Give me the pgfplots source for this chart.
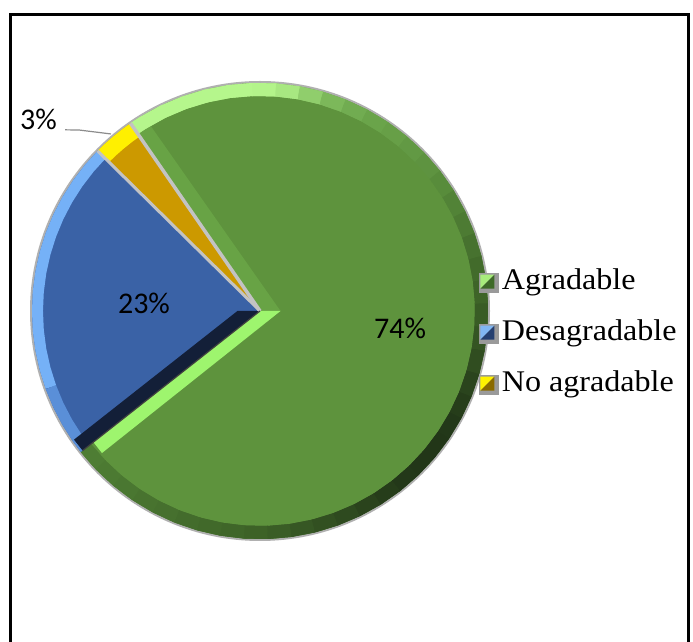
\documentclass[border=0pt]{standalone}
\usepackage{fontspec}
\setmainfont{Liberation Serif}
\newfontfamily\carlito{Carlito}
\usepackage{pgfplots}
\pgfplotsset{compat=1.18}
\usepgfplotslibrary{polar}
\definecolor{gmain}{HTML}{5E933D}
\definecolor{gband}{HTML}{68A345}
\definecolor{glight}{HTML}{9EF56E}
\definecolor{navy}{HTML}{131F38}
\definecolor{bmain}{HTML}{3A62A6}
\definecolor{blight}{HTML}{75B1F7}
\definecolor{bmid}{HTML}{5A8FD8}
\definecolor{ymain}{HTML}{CC9900}
\definecolor{ybright}{HTML}{FFF000}
\definecolor{sepgray}{HTML}{C3C3C3}
\definecolor{shadowgray}{HTML}{B0B0B0}
\definecolor{leadergray}{HTML}{8C8C8C}
\definecolor{lgray}{HTML}{9A9A9A}
\definecolor{gll}{HTML}{A8EC7C}
\definecolor{gld}{HTML}{3E6A28}
\definecolor{bll}{HTML}{80B6F2}
\definecolor{bld}{HTML}{243F70}
\definecolor{yll}{HTML}{FFF200}
\definecolor{yld}{HTML}{8A6A00}
\newcommand{\legtext}[1]{\scalebox{1.07}[1]{#1}}
\pgfplotstableread{
ang   r     shade
-141.8 0.972 1.8
-136  0.972 1.7
-130  0.972 1.6
-124  0.972 1.5
-118  0.972 1.4
-112  0.972 1.3
-106  0.972 1.2
-100  0.972 1.1
-94   0.972 1.0
-88   0.972 0.9
-82   0.972 0.8
-76   0.972 0.65
-70   0.972 0.5
-64   0.972 0.35
-58   0.972 0.2
-52   0.972 0.1
-46   0.972 0
-40   0.972 0
-34   0.972 0
-28   0.972 0.1
-22   0.972 0.2
-16   0.972 0.4
-10   0.972 0.6
-4    0.972 0.75
2     0.972 0.9
8     0.972 1.1
14    0.972 1.3
20    0.972 1.55
26    0.972 1.8
32    0.972 2.05
38    0.972 2.3
44    0.972 2.5
50    0.972 2.7
56    0.972 2.85
62    0.972 3.0
68    0.972 3.15
74    0.972 3.3
80    0.972 3.7
86    0.972 3.95
92    0.972 4
98    0.972 4
104   0.972 4
110   0.972 4
116   0.972 4
122   0.972 4
124.6 0.972 4
}\rimtable
\begin{document}
\begin{tikzpicture}[x=1pt,y=1pt]
\useasboundingbox (0,0) rectangle (693,642);
\fill[white] (0,0) rectangle (693,642);
\draw[line width=3pt] (10.5,-20) -- (10.5,627.5) -- (688.5,627.5) -- (688.5,-20);
\fill[shadowgray] (260,331) circle (230);
\begin{axis}[
  at={(260pt,331pt)}, anchor=center,
  width=456pt, height=456pt, scale only axis,
  xmin=-1, xmax=1, ymin=-1, ymax=1,
  hide axis, clip=false, data cs=polar,
  colormap={rimgreen}{rgb255=(34,54,24) rgb255=(62,100,40) rgb255=(84,134,56) rgb255=(108,166,76) rgb255=(181,246,140)},
  point meta min=0, point meta max=4,
  legend cell align=left,
  legend style={at={(0.98,0.449)}, anchor=west, draw=none, fill=none,
    inner sep=0pt, outer sep=0pt, row sep=24pt,
    font=\fontsize{30}{35}\selectfont,
    nodes={inner xsep=3pt, inner ysep=0pt, text height=20pt, text depth=7pt}},
]
% --- Agradable 74%
\addplot[fill=gmain, draw=none,
  legend image code/.code={\fill[lgray] (0pt,-10pt) rectangle (20pt,10pt);
    \fill[gll] (1.5pt,-5.5pt) -- (1.5pt,8.5pt) -- (15.5pt,8.5pt) -- cycle;
    \fill[gld] (1.5pt,-5.5pt) -- (15.5pt,-5.5pt) -- (15.5pt,8.5pt) -- cycle;}]
 coordinates {(0,0) (-141.8,1) (-138,1) (-134,1) (-130,1) (-126,1) (-122,1) (-118,1) (-114,1) (-110,1) (-106,1) (-102,1) (-98,1) (-94,1) (-90,1) (-86,1) (-82,1) (-78,1) (-74,1) (-70,1) (-66,1) (-62,1) (-58,1) (-54,1) (-50,1) (-46,1) (-42,1) (-38,1) (-34,1) (-30,1) (-26,1) (-22,1) (-18,1) (-14,1) (-10,1) (-6,1) (-2,1) (2,1) (6,1) (10,1) (14,1) (18,1) (22,1) (26,1) (30,1) (34,1) (38,1) (42,1) (46,1) (50,1) (54,1) (58,1) (62,1) (66,1) (70,1) (74,1) (78,1) (82,1) (86,1) (90,1) (94,1) (98,1) (102,1) (106,1) (110,1) (114,1) (118,1) (122,1) (124.6,1) (0,0)};
\addlegendentry{\legtext{Agradable}}
\addplot[fill=gband, draw=none, forget plot] coordinates {(0,0) (124.6,0.99) (120.79,0.992) (0,0.09) (0,0)};
\addplot[mesh, point meta=\thisrow{shade}, line width=13pt, line cap=round, forget plot] table[x=ang, y=r] {\rimtable};
\addplot[mesh, point meta=\thisrow{shade}, line width=13pt, forget plot] table[x=ang, y=r] {\rimtable};
% --- Desagradable 23%
\addplot[fill=bmain, draw=none,
  legend image code/.code={\fill[lgray] (0pt,-10pt) rectangle (20pt,10pt);
    \fill[bll] (1.5pt,-5.5pt) -- (1.5pt,8.5pt) -- (15.5pt,8.5pt) -- cycle;
    \fill[bld] (1.5pt,-5.5pt) -- (15.5pt,-5.5pt) -- (15.5pt,8.5pt) -- cycle;}]
 coordinates {(0,0) (135.4,1) (140,1) (145,1) (150,1) (155,1) (160,1) (165,1) (170,1) (175,1) (180,1) (185,1) (190,1) (195,1) (200,1) (205,1) (210,1) (215,1) (218.2,1) (0,0)};
\addlegendentry{\legtext{Desagradable}}
% --- No agradable 3%
\addplot[fill=ymain, draw=none,
  legend image code/.code={\fill[lgray] (0pt,-10pt) rectangle (20pt,10pt);
    \fill[yll] (1.5pt,-5.5pt) -- (1.5pt,8.5pt) -- (15.5pt,8.5pt) -- cycle;
    \fill[yld] (1.5pt,-5.5pt) -- (15.5pt,-5.5pt) -- (15.5pt,8.5pt) -- cycle;}]
 coordinates {(0,0) (124.6,1) (127,1) (130,1) (133,1) (135.4,1) (0,0)};
\addlegendentry{\legtext{No agradable}}
% --- bevel decorations
\addplot[draw=blight, line width=11pt, forget plot] coordinates {(135.4,0.976) (140,0.976) (145,0.976) (150,0.976) (155,0.976) (160,0.976) (165,0.976) (170,0.976) (175,0.976) (180,0.976) (185,0.976) (190,0.976) (195,0.976) (200,0.976)};
\addplot[draw=bmid, line width=11pt, forget plot] coordinates {(200,0.976) (205,0.976) (210,0.976) (215,0.976) (218.2,0.976)};
\addplot[draw=ybright, line width=16pt, forget plot] coordinates {(124.6,0.965) (127,0.965) (130,0.965) (133,0.965) (135.4,0.965)};
\addplot[fill=navy, draw=none, forget plot] coordinates {(0,0) (180,0.099) (214.67,0.992) (218.2,0.99) (0,0)};
\addplot[fill=glight, draw=none, forget plot] coordinates {(0,0) (0,0.09) (221.95,0.932) (218.2,0.93) (0,0)};
\addplot[draw=sepgray, line width=3.5pt, forget plot] coordinates {(0,0) (124.6,1)};
\addplot[draw=sepgray, line width=3pt, forget plot] coordinates {(0,0) (135.4,1)};
\addplot[draw=black!75, line width=1.2pt, forget plot] coordinates {(0,0) (218.2,0.99)};
% --- labels (cartesian positions of the polar label points)
\node[font=\carlito\fontsize{30}{36}\selectfont] at (axis cs:0.6145,-0.0744) {74\%};
\node[font=\carlito\fontsize{30}{36}\selectfont] at (axis cs:-0.5088,0.0347) {23\%};
\node[font=\carlito\fontsize{30}{36}\selectfont] at (axis cs:-0.9713,0.8383) {3\%};
\draw[leadergray, line width=1.2pt] (axis cs:-0.8547,0.7946) -- (axis cs:-0.7930,0.7937) -- (axis cs:-0.6537,0.7765);
\end{axis}
\end{tikzpicture}
\end{document}
